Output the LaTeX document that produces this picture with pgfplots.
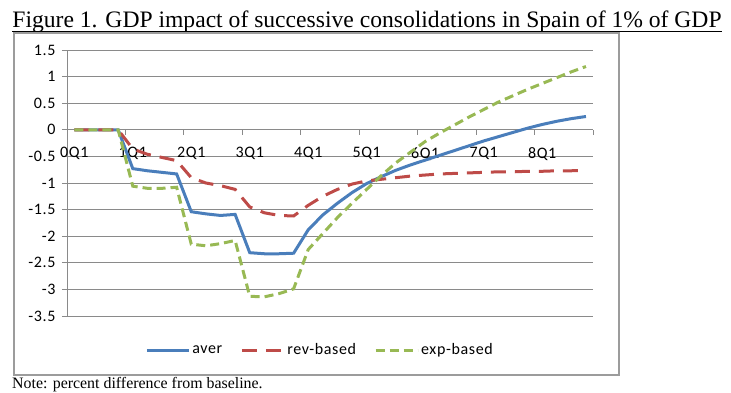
\documentclass[border=0pt]{standalone}
\usepackage{fontspec}
\setmainfont{Liberation Serif}
\newfontfamily\calibri[LetterSpace=4]{Carlito}
\usepackage{pgfplots}
\pgfplotsset{compat=1.18}
\definecolor{averc}{HTML}{4A7EBB}
\definecolor{revc}{HTML}{BE4B48}
\definecolor{expc}{HTML}{98B954}
\definecolor{gridc}{HTML}{8A8A8A}
\begin{document}
\begin{tikzpicture}[x=1pt,y=1pt]
\path[use as bounding box] (0pt,0pt) rectangle (731pt,-393pt);
\node[anchor=base, inner sep=0pt, font=\fontsize{23.6}{27}\selectfont] (title) at (367pt,-28pt) {Figure 1. GDP impact of successive consolidations in Spain of 1\% of GDP};
\draw[line width=0.9pt] ([yshift=-3.5pt]title.base west) -- ([yshift=-3.5pt]title.base east);
\draw[gridc!85, line width=1.3pt] (14pt,-33pt) rectangle (619pt,-375pt);
\node[anchor=base west, inner sep=0pt, font=\fontsize{15.9}{18}\selectfont] at (12pt,-388pt) {Note: percent difference from baseline.};
\begin{axis}[
  at={(67pt,-316pt)}, anchor=south west,
  width=526.3pt, height=266pt, scale only axis,
  xmin=-0.5, xmax=35.5, ymin=-3.5, ymax=1.5,
  axis x line*=middle, axis y line*=left,
  axis line style={gridc, line width=1pt},
  ytick={-3.5,-3,-2.5,-2,-1.5,-1,-0.5,0,0.5,1,1.5},
  ymajorgrids, grid style={gridc, line width=1pt},
  xtick={-0.5,3.5,7.5,11.5,15.5,19.5,23.5,27.5,31.5,35.5},
  xticklabels={},
  extra x ticks={0,4,8,12,16,20,24,28,32},
  extra x tick labels={0Q1,1Q1,2Q1,3Q1,4Q1,5Q1,6Q1,7Q1,8Q1},
  extra x tick style={tick style={draw=none}, xticklabel style={yshift=-9pt}},
  tick align=outside, major tick length=5pt,
  tick style={gridc, line width=1pt},
  tick label style={font=\calibri\fontsize{16}{19}\selectfont},
  yticklabel style={xshift=-3pt},
  /pgf/number format/assume math mode=true,
  legend columns=3,
  legend style={draw=none, fill=none, at={(0.5,0)}, anchor=center, yshift=-34pt, xshift=-10pt,
    font=\calibri\fontsize{16}{19}\selectfont,
    /tikz/every even column/.append style={column sep=16pt}},
  legend image code/.code={\draw[#1] (0pt,0pt) -- (42pt,0pt);},
]
\addplot[averc, line width=3pt] coordinates {
(0,0) (1,0) (2,0) (3,0)
(4,-0.73) (5,-0.77) (6,-0.80) (7,-0.83)
(8,-1.54) (9,-1.58) (10,-1.61) (11,-1.59)
(12,-2.31) (13,-2.33) (14,-2.33) (15,-2.32)
(16,-1.88) (17,-1.60) (18,-1.38) (19,-1.18) (20,-1.01) (21,-0.88) (22,-0.76) (23,-0.66)
(24,-0.57) (25,-0.48) (26,-0.39) (27,-0.30) (28,-0.21) (29,-0.13) (30,-0.05) (31,0.03)
(32,0.10) (33,0.16) (34,0.21) (35,0.25)};
\addlegendentry{aver}
\addplot[revc, line width=3pt, dash pattern=on 15pt off 9pt] coordinates {
(0,0) (1,0) (2,0) (3,0)
(4,-0.36) (5,-0.46) (6,-0.52) (7,-0.58)
(8,-0.90) (9,-1.00) (10,-1.05) (11,-1.12)
(12,-1.45) (13,-1.56) (14,-1.61) (15,-1.62)
(16,-1.42) (17,-1.25) (18,-1.12) (19,-1.02) (20,-0.96) (21,-0.93) (22,-0.90) (23,-0.87)
(24,-0.85) (25,-0.83) (26,-0.82) (27,-0.81) (28,-0.80) (29,-0.79) (30,-0.79) (31,-0.78)
(32,-0.78) (33,-0.77) (34,-0.77) (35,-0.76)};
\addlegendentry{rev-based}
\addplot[expc, line width=3pt, dash pattern=on 9pt off 5pt] coordinates {
(0,0) (1,0) (2,0) (3,0)
(4,-1.06) (5,-1.10) (6,-1.10) (7,-1.08)
(8,-2.15) (9,-2.18) (10,-2.14) (11,-2.08)
(12,-3.13) (13,-3.14) (14,-3.08) (15,-2.99)
(16,-2.25) (17,-1.95) (18,-1.65) (19,-1.38) (20,-1.12) (21,-0.86) (22,-0.62) (23,-0.42)
(24,-0.22) (25,-0.06) (26,0.09) (27,0.24) (28,0.38) (29,0.52) (30,0.64) (31,0.76)
(32,0.87) (33,0.98) (34,1.09) (35,1.19)};
\addlegendentry{exp-based}
\end{axis}
\end{tikzpicture}
\end{document}
